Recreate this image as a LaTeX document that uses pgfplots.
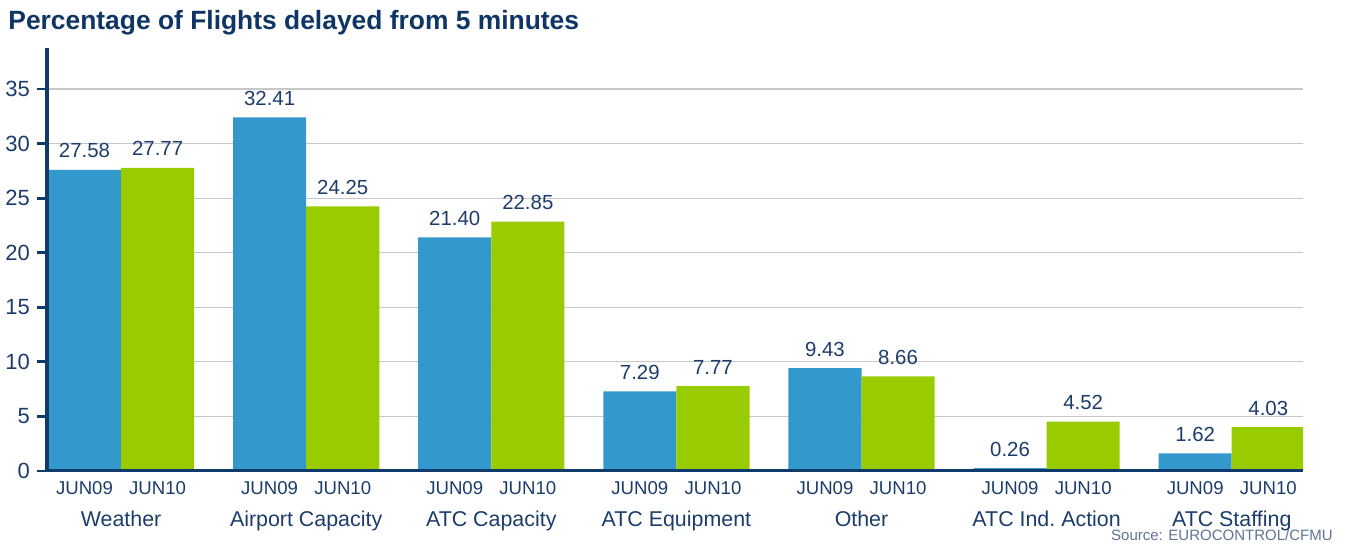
\documentclass[border=0pt]{standalone}
\usepackage{fontspec}
\setmainfont{Liberation Sans}
\usepackage{pgfplots}
\pgfplotsset{compat=1.18}

\definecolor{titlenavy}{HTML}{0E3564}
\definecolor{axisnavy}{HTML}{0F3A6C}
\definecolor{textnavy}{HTML}{1C3D6B}
\definecolor{barblue}{HTML}{3399CC}
\definecolor{bargreen}{HTML}{99CC00}
\definecolor{srcgray}{HTML}{5F7394}

\begin{document}
\begin{tikzpicture}
\useasboundingbox (0pt,0pt) rectangle (674pt,272pt);

\node[anchor=base west, inner sep=0pt, text=titlenavy,
      font=\bfseries\fontsize{13.2}{15}\selectfont]
  at (4pt,257pt) {Percentage of Flights delayed from 5 minutes};

\begin{axis}[
  at={(23.5pt,36.5pt)}, anchor=south west,
  scale only axis, width=628pt, height=211.5pt,
  /pgf/number format/assume math mode=true,
  ybar, bar width=0.395,
  xmin=-0.4, xmax=6.385,
  ymin=0, ymax=38.76,
  axis x line=bottom, axis y line=left,
  axis line style={-},
  x axis line style={axisnavy, line width=1.5pt},
  y axis line style={axisnavy, line width=1.75pt},
  ytick={0,5,...,35},
  ymajorgrids,
  grid style={black!22, line width=0.6pt},
  tick align=outside,
  major tick length=5pt,
  ytick style={axisnavy, line width=1.4pt},
  xtick style={draw=none},
  yticklabel style={text=textnavy, font=\fontsize{11}{13}\selectfont},
  xtick={-0.1975,0.1975,0.8025,1.1975,1.8025,2.1975,2.8025,3.1975,
         3.8025,4.1975,4.8025,5.1975,5.8025,6.1975},
  xticklabels={JUN09,JUN10,JUN09,JUN10,JUN09,JUN10,JUN09,JUN10,
               JUN09,JUN10,JUN09,JUN10,JUN09,JUN10},
  xticklabel style={text=textnavy, font=\fontsize{9.3}{11}\selectfont,
                    anchor=base, yshift=-7pt},
  extra x ticks={0,1,2,3,4,5,6},
  extra x tick labels={Weather,Airport Capacity,ATC Capacity,ATC Equipment,
                       Other,ATC Ind.\ Action,ATC Staffing},
  extra x tick style={grid=none, xtick style={draw=none},
    xticklabel style={font=\fontsize{10.7}{13}\selectfont, yshift=-16pt}},
  nodes near coords,
  nodes near coords style={text=textnavy, font=\fontsize{10.2}{12}\selectfont,
    anchor=base, yshift=6pt, inner sep=0pt,
    /pgf/number format/.cd, fixed, fixed zerofill, precision=2},
]
% JUN09
\addplot[fill=barblue, draw=none, bar shift=-0.1975] coordinates {
  (0,27.58) (1,32.41) (2,21.40) (3,7.29) (4,9.43) (5,0.26) (6,1.62)};
% JUN10
\addplot[fill=bargreen, draw=none, bar shift=0.1975] coordinates {
  (0,27.77) (1,24.25) (2,22.85) (3,7.77) (4,8.66) (5,4.52) (6,4.03)};
% axis lines redrawn over the bars
\draw[axisnavy, line width=1.5pt] (rel axis cs:0,0) -- (rel axis cs:1,0);
\draw[axisnavy, line width=1.75pt] (rel axis cs:0,-0.005) -- (rel axis cs:0,1);
\end{axis}

\node[anchor=base east, inner sep=0pt, text=srcgray,
      font=\fontsize{7.5}{9}\selectfont]
  at (666.5pt,1.5pt) {Source: EUROCONTROL/CFMU};
\end{tikzpicture}
\end{document}
